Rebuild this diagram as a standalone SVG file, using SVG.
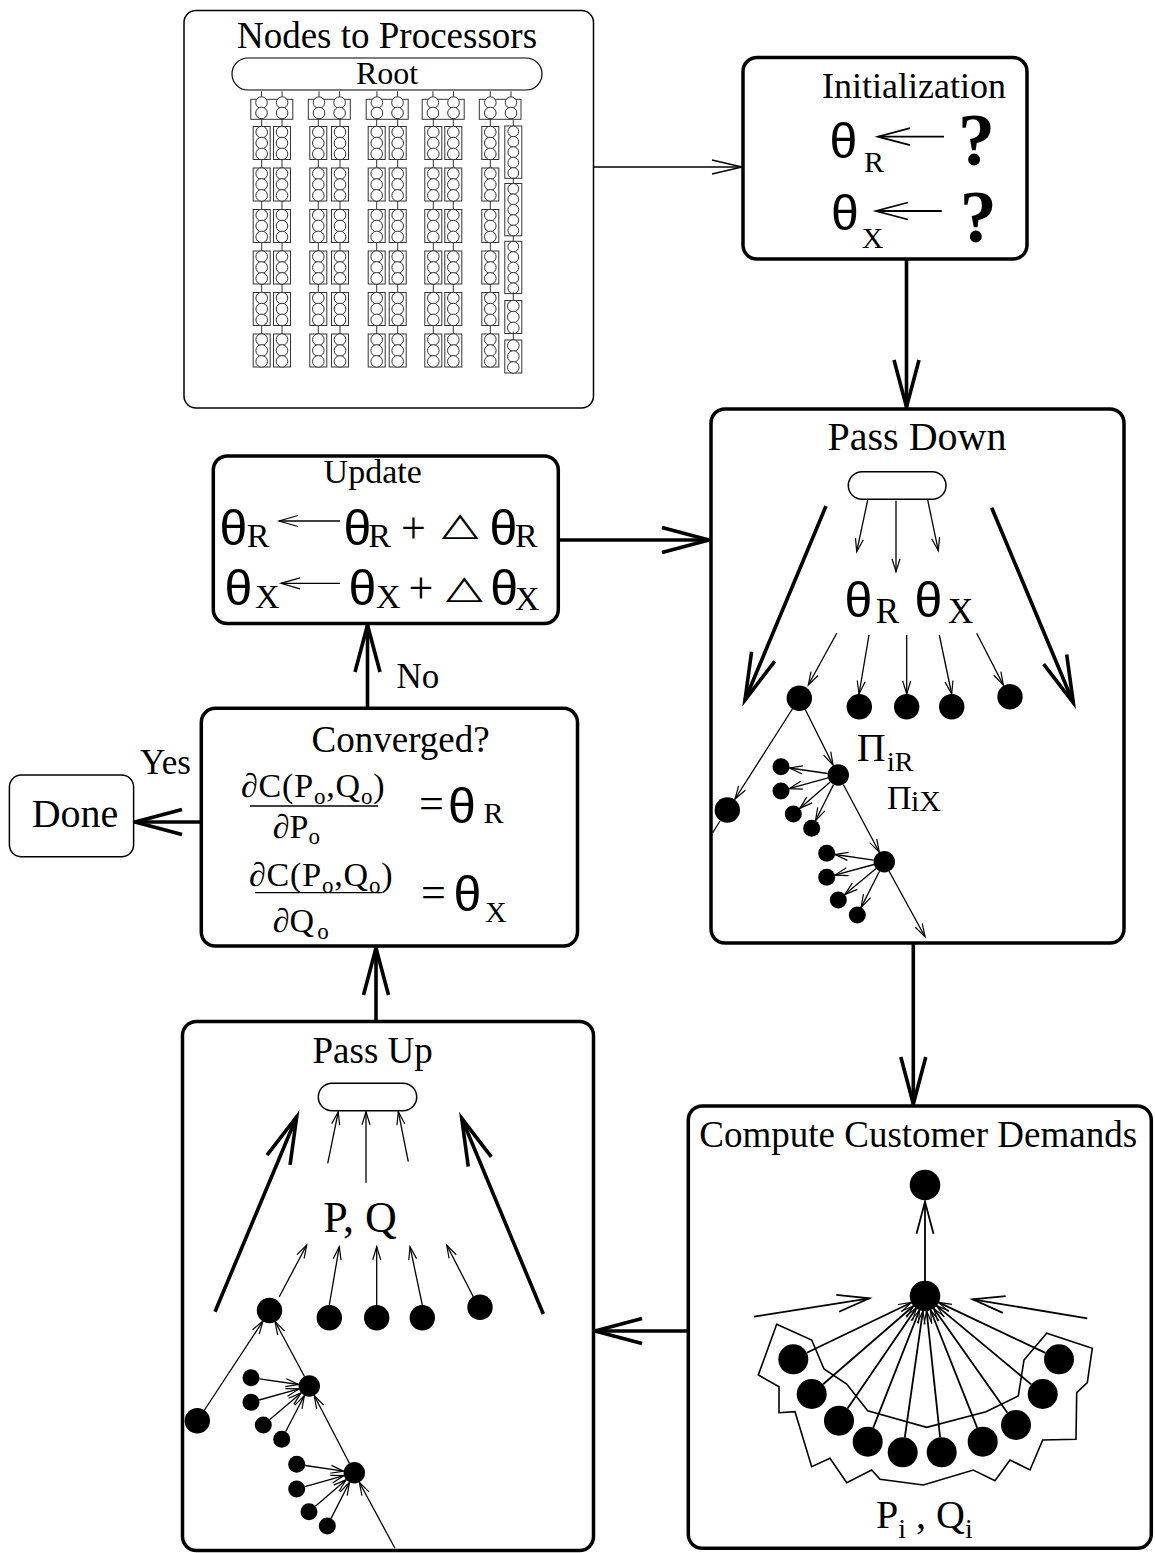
<svg xmlns="http://www.w3.org/2000/svg" xmlns:xlink="http://www.w3.org/1999/xlink" width="1155" height="1553" viewBox="0 0 1155 1553">
<style>
text{font-family:"Liberation Serif","Times New Roman",serif;fill:#000}
.bx{fill:#fff;stroke:#000;stroke-width:3.5}
.bxt{fill:#fff;stroke:#000;stroke-width:1.5}
.thk{stroke:#000;stroke-width:3.6;fill:none}
.thn{stroke:#000;stroke-width:1.3;fill:none}
.med{stroke:#000;stroke-width:1.8;fill:none}
.np{stroke:#333;stroke-width:1;fill:#fff}
.dot{fill:#000}
.th{font-family:"Liberation Sans",Arial,sans-serif;font-size:50px;text-anchor:middle}
.dl{font-family:"DejaVu Sans",sans-serif;font-size:46px}
</style>
<defs>
<marker id="mB" markerUnits="userSpaceOnUse" orient="auto" overflow="visible" markerWidth="1" markerHeight="1"><path d="M-47,-12.5 L0,0 L-47,12.5" fill="none" stroke="#000" stroke-width="3.6"/></marker>
<marker id="mM" markerUnits="userSpaceOnUse" orient="auto" overflow="visible" markerWidth="1" markerHeight="1"><path d="M-32,-8.5 L0,0 L-32,8.5" fill="none" stroke="#000" stroke-width="1.8"/></marker>
<marker id="mN" markerUnits="userSpaceOnUse" orient="auto" overflow="visible" markerWidth="1" markerHeight="1"><path d="M-30,-7 L0,0 L-30,7" fill="none" stroke="#000" stroke-width="1.3"/></marker>
<marker id="mT" markerUnits="userSpaceOnUse" orient="auto" overflow="visible" markerWidth="1" markerHeight="1"><path d="M-13,-4 L0,0 L-13,4" fill="none" stroke="#000" stroke-width="1.2"/></marker>
<marker id="mU" markerUnits="userSpaceOnUse" orient="auto" overflow="visible" markerWidth="1" markerHeight="1"><path d="M-19,-5.5 L0,0 L-19,5.5" fill="none" stroke="#000" stroke-width="1.2"/></marker>
<g id="c3" class="np"><line x1="0" y1="-8.5" x2="0" y2="0"/><rect x="-8.5" y="0" width="17" height="33"/><circle cy="5.6" r="5.8"/><circle cy="16.5" r="5.8"/><circle cy="27.4" r="5.8"/></g>
<g id="c5" class="np"><line x1="0" y1="-6" x2="0" y2="0"/><rect x="-8.5" y="0" width="17" height="52.3"/><circle cy="5.4" r="5.4"/><circle cy="15.8" r="5.4"/><circle cy="26.2" r="5.4"/><circle cy="36.6" r="5.4"/><circle cy="47" r="5.4"/></g>
<g id="col"><use xlink:href="#c3" y="0"/><use xlink:href="#c3" y="41.5"/><use xlink:href="#c3" y="83"/><use xlink:href="#c3" y="124.5"/><use xlink:href="#c3" y="166"/><use xlink:href="#c3" y="207.5"/></g>
<g id="t2" class="np"><line x1="-10.3" y1="-8" x2="-10.3" y2="-2.5"/><line x1="10.3" y1="-8" x2="10.3" y2="-2.5"/><rect x="-21" y="0" width="42" height="20"/><circle cx="-10.3" cy="3.3" r="5.8"/><circle cx="-10.3" cy="13.7" r="5.8"/><circle cx="10.3" cy="3.3" r="5.8"/><circle cx="10.3" cy="13.7" r="5.8"/></g>
</defs>
<rect width="1155" height="1553" fill="#fff"/>

<g id="connectors">
<line class="thn" x1="594" y1="167" x2="742" y2="167" marker-end="url(#mN)"/>
<line class="thk" x1="906.5" y1="259" x2="906.5" y2="407" marker-end="url(#mB)"/>
<line class="thk" x1="558" y1="540" x2="709" y2="540" marker-end="url(#mB)"/>
<line class="thk" x1="367.5" y1="708" x2="367.5" y2="625" marker-end="url(#mB)"/>
<line class="thk" x1="201" y1="822" x2="135" y2="822" marker-end="url(#mB)"/>
<line class="thk" x1="376" y1="1021" x2="376" y2="948" marker-end="url(#mB)"/>
<line class="thk" x1="913.3" y1="943" x2="913.3" y2="1104" marker-end="url(#mB)"/>
<line class="thk" x1="688" y1="1331" x2="595" y2="1331" marker-end="url(#mB)"/>
<text x="396.5" y="688" font-size="35">No</text>
<text x="140" y="774" font-size="35">Yes</text>
</g>

<g id="nodes-to-processors">
<rect class="bxt" x="184" y="10.5" width="409.5" height="397.5" rx="12"/>
<text x="387" y="48" font-size="37" text-anchor="middle">Nodes to Processors</text>
<rect x="232" y="58" width="310" height="32" rx="16" fill="#fff" stroke="#000" stroke-width="1.2"/>
<text x="387" y="83.5" font-size="32" text-anchor="middle">Root</text>
<use xlink:href="#t2" x="271.8" y="99.3"/>
<use xlink:href="#t2" x="329.3" y="99.3"/>
<use xlink:href="#t2" x="387.2" y="99.3"/>
<use xlink:href="#t2" x="443.2" y="99.3"/>
<g class="np"><line x1="490.3" y1="91.3" x2="490.3" y2="96.8"/><line x1="511" y1="91.3" x2="511" y2="96.8"/><rect x="479.3" y="99.3" width="41.7" height="20"/><circle cx="490.3" cy="102.6" r="5.8"/><circle cx="490.3" cy="113" r="5.8"/><circle cx="511" cy="102.6" r="5.8"/><circle cx="511" cy="113" r="5.8"/></g>
<use xlink:href="#col" x="261.7" y="126.5"/>
<use xlink:href="#col" x="282" y="126.5"/>
<use xlink:href="#col" x="318.3" y="126.5"/>
<use xlink:href="#col" x="340" y="126.5"/>
<use xlink:href="#col" x="376.7" y="126.5"/>
<use xlink:href="#col" x="397.7" y="126.5"/>
<use xlink:href="#col" x="433.3" y="126.5"/>
<use xlink:href="#col" x="453.3" y="126.5"/>
<use xlink:href="#col" x="490.3" y="126.5"/>
<use xlink:href="#c5" x="513.3" y="126"/>
<use xlink:href="#c5" x="513.3" y="183.5"/>
<use xlink:href="#c5" x="513.3" y="241.3"/>
<use xlink:href="#c3" x="513.3" y="300.5"/>
<use xlink:href="#c3" x="513.3" y="340"/>
</g>

<g id="initialization">
<rect class="bx" x="743" y="57.5" width="284" height="201.5" rx="14"/>
<text x="914" y="97.5" font-size="36" text-anchor="middle">Initialization</text>
<text class="th" x="843.3" y="158" font-size="52">θ</text>
<text x="864" y="171.7" font-size="30">R</text>
<line class="med" x1="944" y1="136.7" x2="878" y2="136.7" marker-end="url(#mM)"/>
<text x="976.5" y="165" font-size="74" font-weight="bold" text-anchor="middle">?</text>
<text class="th" x="845" y="230" font-size="52">θ</text>
<text x="861.7" y="248.3" font-size="30">X</text>
<line class="med" x1="941.7" y1="211" x2="876" y2="211" marker-end="url(#mM)"/>
<text x="978.3" y="241.7" font-size="74" font-weight="bold" text-anchor="middle">?</text>
</g>

<g id="update">
<rect class="bx" x="213.3" y="456" width="345" height="167.5" rx="14"/>
<text x="372.7" y="483.3" font-size="34" text-anchor="middle">Update</text>
<text class="th" x="233.3" y="545">θ</text>
<text x="246.7" y="546.7" font-size="34">R</text>
<line class="thn" x1="340" y1="521" x2="279" y2="521" marker-end="url(#mU)"/>
<text class="th" x="357.5" y="545">θ</text>
<text x="368.3" y="546.7" font-size="34">R</text>
<text x="413.3" y="543" font-size="44" text-anchor="middle">+</text>
<text class="dl" transform="translate(460,535) scale(1.05,0.7)" text-anchor="middle">△</text>
<text class="th" x="503.3" y="545">θ</text>
<text x="515" y="546.7" font-size="34">R</text>
<text class="th" x="238.3" y="605">θ</text>
<text x="255" y="608.3" font-size="34">X</text>
<line class="thn" x1="340" y1="583.3" x2="281" y2="583.3" marker-end="url(#mU)"/>
<text class="th" x="362.5" y="605">θ</text>
<text x="376" y="608.3" font-size="34">X</text>
<text x="421" y="603" font-size="44" text-anchor="middle">+</text>
<text class="dl" transform="translate(464.3,598.3) scale(1.05,0.7)" text-anchor="middle">△</text>
<text class="th" x="504.2" y="605">θ</text>
<text x="515" y="610" font-size="34">X</text>
</g>

<g id="converged">
<rect class="bx" x="201.3" y="708.3" width="376.2" height="237.7" rx="14"/>
<text x="400.6" y="751.7" font-size="37" text-anchor="middle">Converged?</text>
<text x="241" y="797" font-size="34" letter-spacing="0.8">∂C(P<tspan font-size="23" dy="7">o</tspan><tspan dy="-7">,Q</tspan><tspan font-size="23" dy="7">o</tspan><tspan dy="-7">)</tspan></text>
<line class="thn" x1="250" y1="806" x2="378" y2="806" stroke-width="1.8"/>
<text x="272.8" y="838" font-size="34">∂P<tspan font-size="23" dy="6">o</tspan></text>
<text x="419" y="818" font-size="44">=</text>
<text class="th" x="462" y="823" font-size="48">θ</text>
<text x="483.4" y="822.7" font-size="30">R</text>
<text x="249" y="886" font-size="34" letter-spacing="0.8">∂C(P<tspan font-size="23" dy="7">o</tspan><tspan dy="-7">,Q</tspan><tspan font-size="23" dy="7">o</tspan><tspan dy="-7">)</tspan></text>
<line class="thn" x1="255" y1="892.7" x2="382" y2="892.7" stroke-width="1.8"/>
<text x="272.8" y="932" font-size="34">∂Q<tspan font-size="23" dx="3" dy="7">o</tspan></text>
<text x="421" y="907" font-size="44">=</text>
<text class="th" x="467.3" y="911" font-size="48">θ</text>
<text x="485" y="921.7" font-size="30">X</text>
</g>

<g id="done">
<rect class="bxt" x="9.4" y="775" width="124.2" height="81.7" rx="12"/>
<text x="75" y="826.7" font-size="40" text-anchor="middle">Done</text>
</g>

<g id="pass-down">
<rect class="bx" x="711" y="409" width="413" height="534" rx="14"/>
<text x="917" y="450" font-size="40" text-anchor="middle">Pass Down</text>
<rect x="848.3" y="471.7" width="97.7" height="27.6" rx="13.8" fill="#fff" stroke="#000" stroke-width="1.5"/>
<g class="thn" marker-end="url(#mT)">
<line x1="867.7" y1="500" x2="856.7" y2="551.7"/>
<line x1="896" y1="500.7" x2="896" y2="571.7"/>
<line x1="927.7" y1="500" x2="938.3" y2="550.7"/>
<line x1="836.7" y1="633.3" x2="808.3" y2="685"/>
<line x1="869" y1="635" x2="859" y2="694"/>
<line x1="906.7" y1="635" x2="906.7" y2="694"/>
<line x1="939.3" y1="635" x2="951.7" y2="694"/>
<line x1="976.7" y1="633.3" x2="1003.3" y2="685"/>
<line x1="793" y1="708" x2="735" y2="799"/>
<line x1="805" y1="709" x2="833" y2="765"/>
<line x1="827.7" y1="773.5" x2="789.4" y2="768"/>
<line x1="828" y1="777.9" x2="789.2" y2="788.7"/>
<line x1="830.2" y1="782" x2="799.7" y2="808.4"/>
<line x1="833.5" y1="784.6" x2="815.5" y2="820.7"/>
<line x1="843.3" y1="784.5" x2="879.3" y2="852.2"/>
<line x1="873.7" y1="860.2" x2="835.1" y2="854.5"/>
<line x1="874" y1="864.5" x2="834.9" y2="875.1"/>
<line x1="876.1" y1="868.5" x2="844.8" y2="894.6"/>
<line x1="879.5" y1="871.3" x2="861.1" y2="907.4"/>
<line x1="889" y1="871" x2="925" y2="936.7"/>
</g>
<line class="thn" x1="720" y1="821" x2="712.5" y2="833"/>
<line class="thk" x1="826" y1="506" x2="745" y2="700" marker-end="url(#mB)"/>
<line class="thk" x1="991.7" y1="507.7" x2="1073.3" y2="702.7" marker-end="url(#mB)"/>
<text class="th" x="858.3" y="617" font-size="62">θ</text>
<text x="875.7" y="622.7" font-size="35">R</text>
<text class="th" x="928.3" y="617" font-size="62">θ</text>
<text x="948" y="622.7" font-size="35">X</text>
<g class="dot">
<circle cx="799.3" cy="698.3" r="12.7"/><circle cx="859.3" cy="706.7" r="12.7"/><circle cx="906.7" cy="706.7" r="12.7"/><circle cx="951.7" cy="706.7" r="12.7"/><circle cx="1010" cy="696.7" r="12.7"/>
<circle cx="727.3" cy="810" r="12.7"/>
<circle cx="838.3" cy="775" r="10.7"/><circle cx="884.3" cy="861.7" r="10.7"/>
<circle cx="781" cy="766.7" r="8.5"/><circle cx="781" cy="791" r="8.5"/><circle cx="793.3" cy="814" r="8.5"/><circle cx="811.7" cy="828.3" r="8.5"/>
<circle cx="826.7" cy="853.3" r="8.5"/><circle cx="826.7" cy="877.3" r="8.5"/><circle cx="838.3" cy="900" r="8.5"/><circle cx="857.3" cy="915" r="8.5"/>
</g>
<text x="856.7" y="761" font-size="40">Π</text>
<text x="887" y="770.5" font-size="28">iR</text>
<text x="887" y="808.5" font-size="34">Π</text>
<text x="911" y="811" font-size="30">iX</text>
</g>

<g id="pass-up">
<rect class="bx" x="182.5" y="1021.5" width="411" height="529" rx="14"/>
<text x="372.7" y="1063.3" font-size="37" text-anchor="middle">Pass Up</text>
<rect x="318.3" y="1083.3" width="98.4" height="27.4" rx="13.7" fill="#fff" stroke="#000" stroke-width="1.5"/>
<g class="thn" marker-end="url(#mT)">
<line x1="327.7" y1="1163.3" x2="338.3" y2="1111.7"/>
<line x1="366" y1="1182.7" x2="366" y2="1111.7"/>
<line x1="408.3" y1="1161.7" x2="398.3" y2="1111.7"/>
<line x1="279.3" y1="1296.7" x2="306.7" y2="1245"/>
<line x1="329.3" y1="1305" x2="339.3" y2="1246.7"/>
<line x1="376.7" y1="1305" x2="376.7" y2="1246.7"/>
<line x1="422.3" y1="1305" x2="410" y2="1246.7"/>
<line x1="473.3" y1="1296.7" x2="446.7" y2="1245"/>
<line x1="204.5" y1="1410" x2="263" y2="1321"/>
<line x1="304.5" y1="1376.5" x2="275" y2="1321.5"/>
<line x1="259.4" y1="1378.9" x2="298.7" y2="1384.5"/>
<line x1="259.2" y1="1400" x2="299" y2="1388.9"/>
<line x1="269.8" y1="1419.5" x2="301.1" y2="1392.9"/>
<line x1="285.6" y1="1431.8" x2="304.4" y2="1395.5"/>
<line x1="349.4" y1="1463.2" x2="314.2" y2="1395.5"/>
<line x1="305.1" y1="1465.5" x2="343.7" y2="1471.2"/>
<line x1="304.9" y1="1486.7" x2="344" y2="1475.6"/>
<line x1="315.4" y1="1506.2" x2="346.2" y2="1479.7"/>
<line x1="331.1" y1="1518.4" x2="349.5" y2="1482.2"/>
<line x1="395" y1="1548.3" x2="359.3" y2="1482.3"/>
</g>
<line class="thk" x1="215" y1="1311.7" x2="296.7" y2="1116.7" marker-end="url(#mB)"/>
<line class="thk" x1="543.3" y1="1314" x2="461.7" y2="1118.3" marker-end="url(#mB)"/>
<text x="323.3" y="1231.7" font-size="44">P, Q</text>
<g class="dot">
<circle cx="269.5" cy="1310.5" r="12.7"/><circle cx="329.3" cy="1317.7" r="12.7"/><circle cx="376.7" cy="1317.7" r="12.7"/><circle cx="422.3" cy="1317.7" r="12.7"/><circle cx="480" cy="1307.3" r="12.7"/>
<circle cx="197.3" cy="1420.7" r="12.7"/>
<circle cx="309.3" cy="1386" r="10.7"/><circle cx="354.3" cy="1472.7" r="10.7"/>
<circle cx="251" cy="1377.7" r="8.5"/><circle cx="251" cy="1402.3" r="8.5"/><circle cx="263.3" cy="1425" r="8.5"/><circle cx="281.7" cy="1439.3" r="8.5"/>
<circle cx="296.7" cy="1464.3" r="8.5"/><circle cx="296.7" cy="1489" r="8.5"/><circle cx="309" cy="1511.7" r="8.5"/><circle cx="327.3" cy="1526" r="8.5"/>
</g>
</g>

<g id="compute-customer-demands">
<rect class="bx" x="688.3" y="1106" width="463" height="442.3" rx="14"/>
<text x="699.3" y="1147.3" font-size="37">Compute Customer Demands</text>
<polygon points="776.7,1324.3 811.7,1340 824,1369 846.7,1384 867.7,1410.7 926.7,1427.3 986,1411.7 1018.3,1396 1024,1360 1046.7,1333.3 1092.3,1348.3 1087.3,1382.7 1076.7,1392.7 1076,1439.3 1042.7,1440 1030,1470 1010,1460 995,1480.7 973.3,1470 923.3,1485 880,1479.3 871.7,1470 846.7,1482.7 830,1458.3 811.7,1466.7 795,1411.7 779,1412.7 779,1386.7 758.3,1375" fill="none" stroke="#000" stroke-width="1.6"/>
<line class="med" x1="925" y1="1282" x2="925" y2="1201.7" marker-end="url(#mM)"/>
<line class="med" x1="754" y1="1316.7" x2="869.3" y2="1298.3" marker-end="url(#mM)"/>
<line class="med" x1="1087.3" y1="1318.3" x2="972.7" y2="1299.3" marker-end="url(#mM)"/>
<g class="med" marker-end="url(#mT)">
<line x1="806.8" y1="1352.8" x2="911.5" y2="1302.5"/>
<line x1="823.1" y1="1384.2" x2="913.7" y2="1305.8"/>
<line x1="847.5" y1="1408.4" x2="916.5" y2="1307.7"/>
<line x1="873.2" y1="1427.8" x2="919.5" y2="1310"/>
<line x1="904.8" y1="1437.5" x2="922.9" y2="1310.9"/>
<line x1="940.1" y1="1437.4" x2="926.6" y2="1310.9"/>
<line x1="977.2" y1="1427.8" x2="930.5" y2="1310"/>
<line x1="1007.4" y1="1412.7" x2="933.6" y2="1308.3"/>
<line x1="1031.2" y1="1384.4" x2="936.5" y2="1305.6"/>
<line x1="1045.4" y1="1352.9" x2="938.6" y2="1302.4"/>
</g>
<g class="dot">
<circle cx="925" cy="1185" r="15.3"/><circle cx="925" cy="1296" r="15.3"/>
<circle cx="793.3" cy="1359.3" r="15"/><circle cx="811.7" cy="1394" r="15"/><circle cx="839" cy="1420.7" r="15"/><circle cx="867.7" cy="1441.7" r="15"/><circle cx="902.7" cy="1452.3" r="15"/>
<circle cx="941.7" cy="1452.3" r="15"/><circle cx="982.7" cy="1441.7" r="15"/><circle cx="1016" cy="1425" r="15"/><circle cx="1042.7" cy="1394" r="15"/><circle cx="1059" cy="1359.3" r="15"/>
</g>
<text x="876" y="1528" font-size="40">P<tspan font-size="28" dy="10">i</tspan><tspan dy="-10"> , Q</tspan><tspan font-size="28" dy="10">i</tspan></text>
</g>
</svg>
